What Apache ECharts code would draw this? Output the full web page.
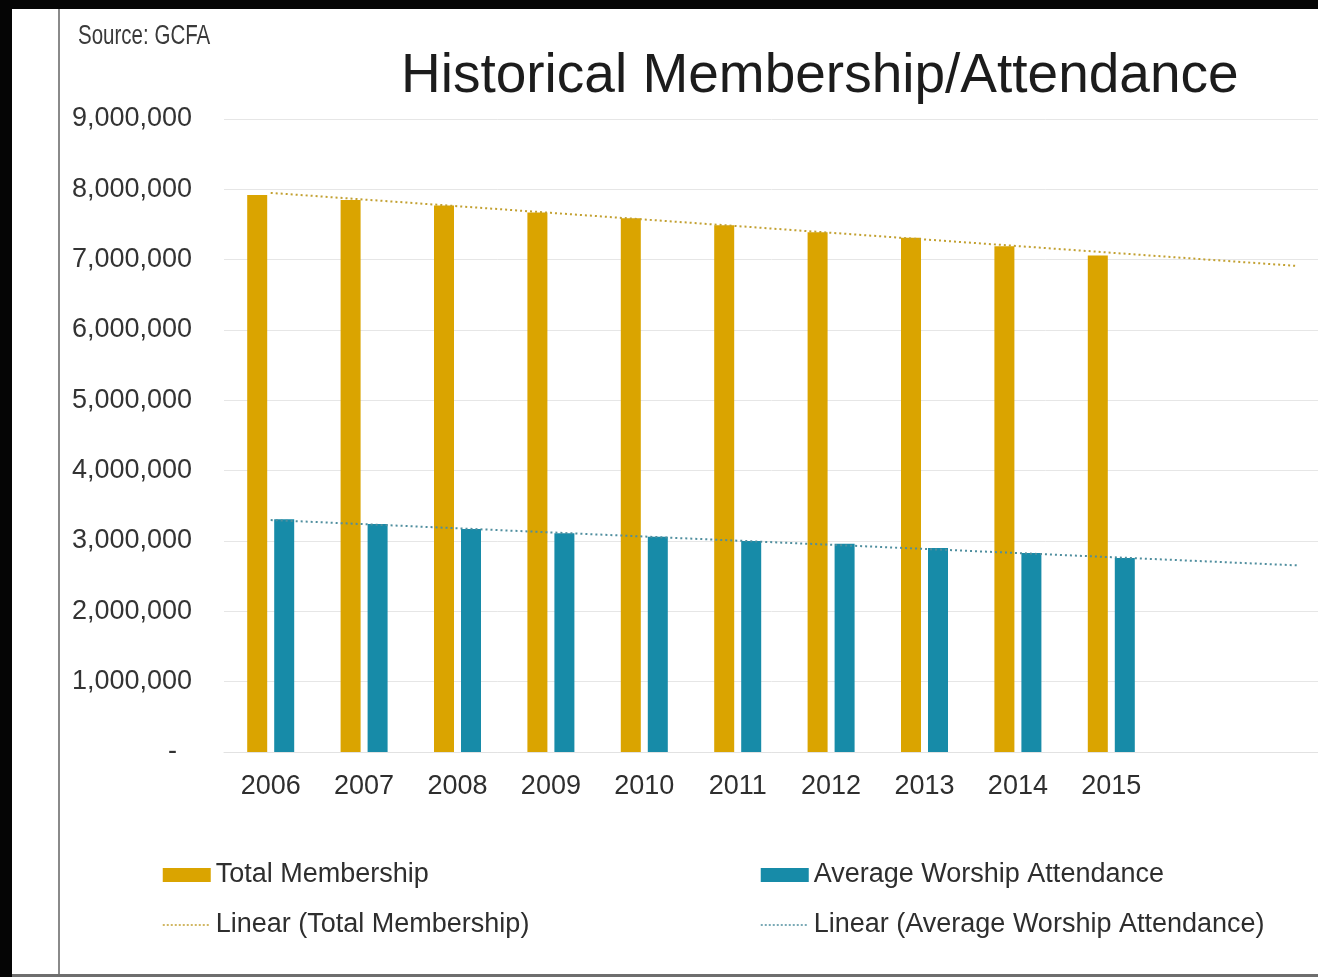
<!DOCTYPE html>
<html>
<head>
<meta charset="utf-8">
<title>Historical Membership/Attendance</title>
<script src="https://cdn.jsdelivr.net/npm/echarts@6/dist/echarts.min.js"></script>
<style>
  html, body { margin: 0; padding: 0; background: #ffffff; }
  #chart { width: 1318px; height: 977px; }
</style>
</head>
<body>
<div id="chart"></div>
<script>
// Years shown on the category axis; two extra empty slots hold the trend forecast.
const years = ['2006', '2007', '2008', '2009', '2010', '2011', '2012', '2013', '2014', '2015'];
const forecastSlots = ['', ''];

// Totals per year (persons)
const totalMembership = [7920000, 7850000, 7770000, 7670000, 7590000, 7490000, 7390000, 7310000, 7190000, 7060000];
const avgAttendance   = [3310000, 3240000, 3170000, 3110000, 3060000, 3000000, 2960000, 2900000, 2830000, 2760000];

// Value-axis ticks
const yTicks = [0, 1000000, 2000000, 3000000, 4000000, 5000000, 6000000, 7000000, 8000000, 9000000];

const GOLD = '#DAA400';
const TEAL = '#178BA8';
const TREND_GOLD = '#C2A030';
const TREND_TEAL = '#4F8E9E';
const FONT = '"Liberation Sans", Arial, Helvetica, sans-serif';

// Least-squares linear trend, evaluated over the data and the forecast slots
function linearTrend(values, totalPoints) {
  const n = values.length;
  let sx = 0, sy = 0, sxy = 0, sxx = 0;
  values.forEach((v, i) => { sx += i; sy += v; sxy += i * v; sxx += i * i; });
  const slope = (n * sxy - sx * sy) / (n * sxx - sx * sx);
  const intercept = (sy - slope * sx) / n;
  const out = [];
  for (let i = 0; i < totalPoints; i++) out.push(intercept + slope * i);
  return out;
}

const categories = years.concat(forecastSlots);
const trendTotal = linearTrend(totalMembership, categories.length);
const trendAttend = linearTrend(avgAttendance, categories.length);

const fmt = v => v === 0 ? '-  ' : v.toLocaleString('en-US');

const chart = echarts.init(document.getElementById('chart'), null, { renderer: 'canvas' });

const legendText = { fontFamily: FONT, fontSize: 27, color: '#2e2e2e', lineHeight: 28 };
// trend entries in the legend: a dotted stroke with no marker
const trendLegendItem = (name, color) => ({
  name,
  itemStyle: { opacity: 0, color: 'rgba(0,0,0,0)', borderWidth: 0 },
  lineStyle: { color, width: 1.5, type: [2, 2], opacity: 1 }
});

chart.setOption({
  backgroundColor: '#ffffff',
  animation: false,
  title: {
    text: 'Historical Membership/Attendance',
    left: 396,
    top: 44,
    textStyle: { fontFamily: FONT, fontSize: 55, fontWeight: 'normal', color: '#1c1c1c' }
  },
  graphic: [
    // frame around the slide
    { type: 'rect', shape: { x: 0, y: 0, width: 1318, height: 9 }, style: { fill: '#050505' }, silent: true },
    { type: 'rect', shape: { x: 0, y: 0, width: 12, height: 977 }, style: { fill: '#050505' }, silent: true },
    { type: 'rect', shape: { x: 58, y: 9, width: 2, height: 966 }, style: { fill: '#8a8a8a' }, silent: true },
    { type: 'rect', shape: { x: 12, y: 974, width: 1306, height: 3 }, style: { fill: '#6e6e6e' }, silent: true },
    {
      type: 'text', x: 78, y: 23, scaleX: 0.76, silent: true,
      style: {
        text: 'Source: GCFA',
        font: '27px "Liberation Sans", Arial, sans-serif',
        fill: '#3a3a3a'
      }
    }
  ],
  grid: {
    left: 224, top: 119, width: 93.4 * categories.length, height: 633,
    containLabel: false, outerBoundsMode: 'none'
  },
  legend: [
    {
      data: [
        { name: 'Total Membership', icon: 'rect' },
        trendLegendItem('Linear (Total Membership)', TREND_GOLD)
      ],
      orient: 'vertical', left: 157, top: 856, itemWidth: 48, itemHeight: 14, itemGap: 22,
      textStyle: legendText
    },
    {
      data: [
        { name: 'Average Worship Attendance', icon: 'rect' },
        trendLegendItem('Linear (Average Worship Attendance)', TREND_TEAL)
      ],
      orient: 'vertical', left: 755, top: 856, itemWidth: 48, itemHeight: 14, itemGap: 22,
      textStyle: legendText
    }
  ],
  xAxis: {
    type: 'category',
    data: categories,
    boundaryGap: true,
    axisLine: { show: true, lineStyle: { color: '#e2e2e2', width: 1 } },
    axisTick: { show: false },
    axisLabel: { fontFamily: FONT, fontSize: 27, color: '#2e2e2e', margin: 21, interval: 0 },
    splitLine: { show: false }
  },
  yAxis: {
    type: 'value',
    min: yTicks[0],
    max: yTicks[yTicks.length - 1],
    interval: yTicks[1] - yTicks[0],
    axisLine: { show: false },
    axisTick: { show: false },
    axisLabel: { fontFamily: FONT, fontSize: 27, color: '#333333', margin: 32, formatter: fmt },
    splitLine: { show: true, lineStyle: { color: '#e6e6e6', width: 1 } }
  },
  series: [
    {
      name: 'Total Membership',
      type: 'bar',
      data: totalMembership,
      barWidth: 20,
      barGap: '35%',
      itemStyle: { color: GOLD }
    },
    {
      name: 'Average Worship Attendance',
      type: 'bar',
      data: avgAttendance,
      barWidth: 20,
      barGap: '35%',
      itemStyle: { color: TEAL }
    },
    {
      name: 'Linear (Total Membership)',
      type: 'line',
      data: trendTotal,
      symbol: 'none',
      z: 5,
      itemStyle: { color: TREND_GOLD },
      lineStyle: { color: TREND_GOLD, width: 2, type: [2, 3] }
    },
    {
      name: 'Linear (Average Worship Attendance)',
      type: 'line',
      data: trendAttend,
      symbol: 'none',
      z: 5,
      itemStyle: { color: TREND_TEAL },
      lineStyle: { color: TREND_TEAL, width: 2, type: [2, 3] }
    }
  ]
});
</script>
</body>
</html>
